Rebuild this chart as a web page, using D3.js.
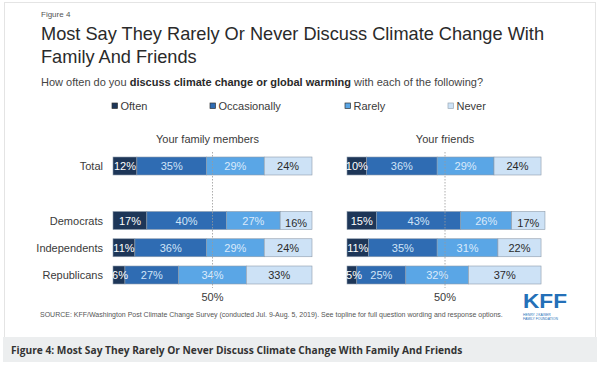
<!DOCTYPE html>
<html><head><meta charset="utf-8">
<script src="https://cdn.jsdelivr.net/npm/d3@7/dist/d3.min.js"></script>
<style>
html,body{margin:0;padding:0;background:#fff;}
svg{display:block;font-family:"Liberation Sans",Arial,sans-serif;}
</style></head>
<body><svg id="c" width="600" height="368"></svg>
<script>
const categories = ["Total", "Democrats", "Independents", "Republicans"];
const responses = ["Often", "Occasionally", "Rarely", "Never"];
const panels = ["Your family members", "Your friends"];
// Your family members
const familyOften = [12, 17, 11, 6];
const familyOccasionally = [35, 40, 36, 27];
const familyRarely = [29, 27, 29, 34];
const familyNever = [24, 16, 24, 33];
// Your friends
const friendsOften = [10, 15, 11, 5];
const friendsOccasionally = [36, 43, 35, 25];
const friendsRarely = [29, 26, 31, 32];
const friendsNever = [24, 17, 22, 37];
const refLabel = "50%";
const refValue = 50;

const colors = ["#1d3658", "#2f6cb3", "#5aa6e6", "#cde2f6"];
const labelColors = ["#ffffff", "#cfe4f8", "#dbeafb", "#2a2a2a"];

const svg = d3.select("#c");

// frame
svg.append("rect").attr("x", 4.5).attr("y", 2.5).attr("width", 591).attr("height", 336)
  .attr("fill", "#fff").attr("stroke", "#e4e4e4");
svg.append("rect").attr("x", 3).attr("y", 337).attr("width", 594).attr("height", 25)
  .attr("fill", "#eceeef");
svg.append("text").attr("x", 11).attr("y", 353.5)
  .attr("font-family", "'Open Sans',sans-serif").attr("font-weight", 700)
  .attr("font-size", 10.2).attr("fill", "#333")
  .text("Figure 4: Most Say They Rarely Or Never Discuss Climate Change With Family And Friends");

// titles
svg.append("text").attr("x", 41).attr("y", 17).attr("font-size", 8).attr("fill", "#555").text("Figure 4");
const title = svg.append("text").attr("x", 41).attr("font-size", 18.2).attr("fill", "#2a2a2a");
title.append("tspan").attr("x", 41).attr("y", 40).text("Most Say They Rarely Or Never Discuss Climate Change With");
title.append("tspan").attr("x", 41).attr("y", 63).text("Family And Friends");
const sub = svg.append("text").attr("x", 41).attr("y", 86).attr("font-size", 11).attr("fill", "#444");
sub.append("tspan").text("How often do you ");
sub.append("tspan").attr("font-weight", "bold").attr("fill", "#2a2a2a").text("discuss climate change or global warming");
sub.append("tspan").text(" with each of the following?");

// legend
const legendX = [112, 210, 345, 448];
responses.forEach((r, i) => {
  const g = svg.append("g").attr("transform", `translate(${legendX[i]},103)`);
  g.append("rect").attr("width", 5.5).attr("height", 5.5).attr("fill", colors[i])
    .attr("stroke", i === 3 ? "#9aa8b6" : "#333").attr("stroke-width", 0.7);
  g.append("text").attr("x", 8.5).attr("y", 6.5).attr("font-size", 11).attr("fill", "#3a3a3a").text(r);
});

// rows
const rows = ["Total", "__gap__", "Democrats", "Independents", "Republicans"];
const y = d3.scalePoint().domain(rows).range([157, 266]);
const barH = 18;

svg.selectAll(".cat").data(categories).join("text")
  .attr("x", 103).attr("y", d => y(d) + barH / 2 + 4)
  .attr("text-anchor", "end").attr("font-size", 11).attr("fill", "#3a3a3a").text(d => d);

const panelData = [
  [familyOften, familyOccasionally, familyRarely, familyNever],
  [friendsOften, friendsOccasionally, friendsRarely, friendsNever]
];
const ranges = [[113, 312], [347, 543]];

panelData.forEach((series, p) => {
  const x = d3.scaleLinear().domain([0, 100]).range(ranges[p]);
  const g = svg.append("g");
  g.append("text").attr("x", x(refValue) - (p === 0 ? 5 : 0)).attr("y", 143).attr("text-anchor", "middle")
    .attr("font-size", 11).attr("fill", "#3a3a3a").text(panels[p]);
  const stacked = categories.map((c, ci) => {
    let acc = 0;
    return series.map((s, si) => {
      const d = { cat: c, idx: si, v: s[ci], x0: acc, x1: acc + s[ci] };
      acc += s[ci];
      return d;
    });
  }).flat();
  g.selectAll("rect.seg").data(stacked).join("rect").attr("class", "seg")
    .attr("x", d => x(d.x0)).attr("y", d => y(d.cat))
    .attr("width", d => x(d.x1) - x(d.x0)).attr("height", barH)
    .attr("fill", d => colors[d.idx]).attr("stroke", "#8d9bab").attr("stroke-width", 0.6);
  g.selectAll("text.lbl").data(stacked).join("text").attr("class", "lbl")
    .attr("x", d => Math.max((x(d.x0) + x(d.x1)) / 2, x(d.x0) + 7))
    .attr("y", d => y(d.cat) + barH / 2 + 4 + (d.cat === "Democrats" && d.idx === 3 ? 2.5 : 0))
    .attr("text-anchor", "middle").attr("font-size", 11)
    .attr("fill", d => labelColors[d.idx]).text(d => d.v + "%");
  // reference line
  g.append("line").attr("x1", x(refValue)).attr("x2", x(refValue)).attr("y1", 152).attr("y2", 288)
    .attr("stroke", "#999").attr("stroke-width", 0.8).attr("stroke-dasharray", "1.5,1.5");
  g.append("text").attr("x", x(refValue)).attr("y", 301).attr("text-anchor", "middle")
    .attr("font-size", 11).attr("fill", "#3a3a3a").text(refLabel);
});

// source
svg.append("text").attr("x", 40).attr("y", 317).attr("font-size", 7).attr("fill", "#555")
  .text("SOURCE: KFF/Washington Post Climate Change Survey (conducted Jul. 9-Aug. 5, 2019). See topline for full question wording and response options.");

// KFF logo
const logo = svg.append("g").attr("transform", "translate(523,308)");
logo.append("text").attr("font-size", 21).attr("font-weight", 900).attr("fill", "#2470b8")
  .attr("textLength", 44).attr("lengthAdjust", "spacingAndGlyphs").text("KFF");
logo.append("text").attr("y", 8.3).attr("font-size", 3.4).attr("fill", "#2470b8").text("HENRY J KAISER");
logo.append("text").attr("y", 12).attr("font-size", 3.4).attr("fill", "#2470b8").text("FAMILY FOUNDATION");
</script></body></html>
